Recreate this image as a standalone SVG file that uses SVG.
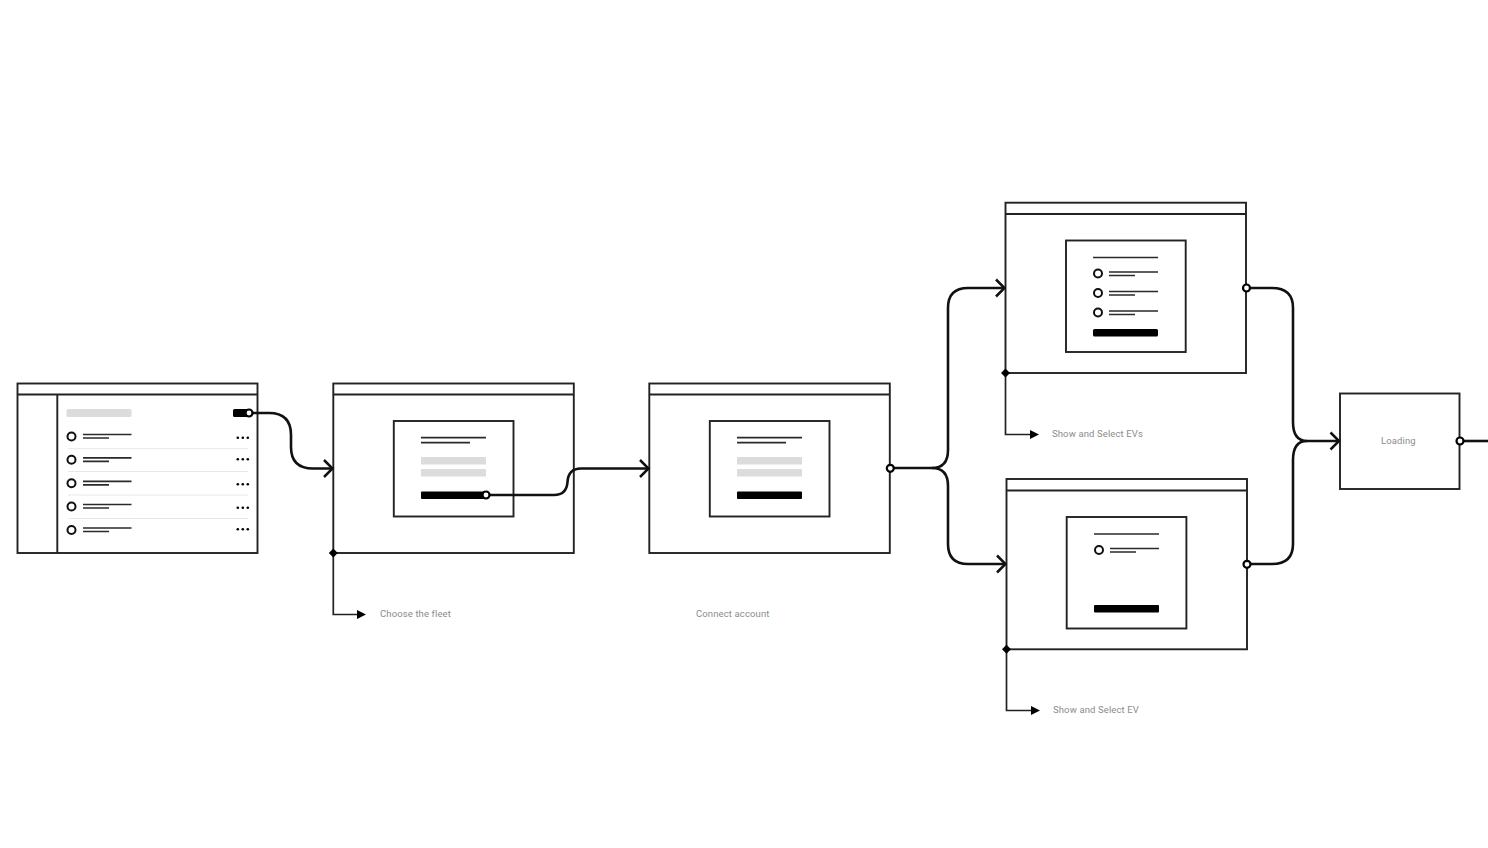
<svg xmlns="http://www.w3.org/2000/svg" width="1488" height="848" viewBox="0 0 1488 848">
<style>
.f{fill:#fff;stroke:#222;stroke-width:1.9}
.l{fill:none;stroke:#222;stroke-width:1.9}
.s{fill:none;stroke:#2a2a2a;stroke-width:1.7}
.sep{fill:none;stroke:#e8e8e8;stroke-width:1}
.g{fill:#dcdcdc}
.b{fill:#000}
.o{fill:#fff;stroke:#111;stroke-width:2}
.c{fill:none;stroke:#111;stroke-width:2.6}
.t{fill:none;stroke:#222;stroke-width:1.7}
.p{fill:#fff;stroke:#000;stroke-width:2.2}
text{font-family:Roboto,"Liberation Sans",sans-serif;font-size:9.500px;fill:#8c8c8c;letter-spacing:.12px}
</style>
<defs>
<marker id="chev" markerUnits="userSpaceOnUse" markerWidth="12" markerHeight="20" refX="10" refY="10" orient="auto" overflow="visible"><path d="M1.500 1.500L10 10L1.500 18.500" fill="none" stroke="#111" stroke-width="2.500"/></marker>
<marker id="tri" markerUnits="userSpaceOnUse" markerWidth="10" markerHeight="10" refX="1" refY="5" orient="auto"><path d="M0 .5L9 5L0 9.500Z" fill="#000"/></marker>
<g id="row"><circle class="o" cx="71.500" cy="0" r="4"/><path class="s" d="M83-2H131.500M83 1.500H109"/></g>
<g id="dots" class="b"><circle cx="237.800" cy="0" r="1.300"/><circle cx="242.800" cy="0" r="1.300"/><circle cx="247.800" cy="0" r="1.300"/></g>
<g id="radio"><circle class="o" cx="0" cy="0" r="4"/><path class="s" d="M11-1.500H60M11 2H37"/></g>
</defs>

<g id="node-list">
<rect class="f" x="17.500" y="383.500" width="240" height="169.500"/>
<path class="l" d="M17.500 394.500H257.500M57.300 394.500V553"/>
<rect class="g" x="66.500" y="409" width="65" height="8" rx="1.500"/>
<use href="#row" y="436.500"/><use href="#row" y="459.800"/><use href="#row" y="483.300"/><use href="#row" y="506.500"/><use href="#row" y="530"/>
<use href="#dots" y="437.700"/><use href="#dots" y="459.300"/><use href="#dots" y="484.300"/><use href="#dots" y="507.700"/><use href="#dots" y="529.300"/>
<path class="sep" d="M68 448.700H248M68 471.500H248M68 495H248M68 518.500H248"/>
<rect class="b" x="233" y="409" width="17" height="8" rx="1.500"/>
</g>

<g id="node-fleet">
<rect class="f" x="333.300" y="383.500" width="240.500" height="169.500"/>
<path class="l" d="M333.300 394.500H573.800"/>
<rect class="f" x="393.800" y="421" width="119.700" height="95.500"/>
<path class="s" d="M421 437.700H486M421 442.700H470"/>
<rect class="g" x="421" y="457" width="65" height="7.500" rx=".5"/><rect class="g" x="421" y="469" width="65" height="7.500" rx=".5"/>
<rect class="b" x="421" y="491.500" width="65" height="7.500" rx="1"/>
<text x="380" y="617">Choose the fleet</text>
</g>

<g id="node-account">
<rect class="f" x="649.300" y="383.500" width="240.500" height="169.500"/>
<path class="l" d="M649.300 394.500H889.800"/>
<rect class="f" x="709.800" y="421" width="119.700" height="95.500"/>
<path class="s" d="M737 437.700H802M737 442.700H786"/>
<rect class="g" x="737" y="457" width="65" height="7.500" rx=".5"/><rect class="g" x="737" y="469" width="65" height="7.500" rx=".5"/>
<rect class="b" x="737" y="491.500" width="65" height="7.500" rx="1"/>
<text x="696" y="617">Connect account</text>
</g>

<g id="node-evs">
<rect class="f" x="1005.500" y="202.700" width="240.500" height="170.300"/>
<path class="l" d="M1005.500 214H1246"/>
<rect class="f" x="1066" y="240.500" width="119.700" height="111.500"/>
<path class="s" d="M1093 257.500H1158"/>
<use href="#radio" x="1098" y="273.500"/><use href="#radio" x="1098" y="293"/><use href="#radio" x="1098" y="312.500"/>
<rect class="b" x="1093" y="329" width="65" height="7.500" rx="1.500"/>
<text x="1052" y="437">Show and Select EVs</text>
</g>

<g id="node-ev">
<rect class="f" x="1006.500" y="479" width="240.500" height="170.300"/>
<path class="l" d="M1006.500 490.500H1247"/>
<rect class="f" x="1066.700" y="517" width="119.700" height="111.500"/>
<path class="s" d="M1094 534H1159"/>
<use href="#radio" x="1099" y="550"/>
<rect class="b" x="1094" y="605" width="65" height="7.500" rx="1"/>
<text x="1053" y="713">Show and Select EV</text>
</g>

<g id="node-loading">
<rect class="f" x="1340" y="393.500" width="119.500" height="95.500"/>
<text x="1381" y="444">Loading</text>
</g>

<g id="connectors">
<path class="c" marker-end="url(#chev)" d="M249 413H269Q291 413 291 435V447Q291 468.500 313 468.500H332.500"/>
<path class="c" marker-end="url(#chev)" d="M486 495H554C564 495 567 489 567.500 482C568 474 572 468.500 581 468.500H648.500"/>
<path class="c" marker-end="url(#chev)" d="M890 468H932Q948 468 948 450V308Q948 288 968 288H1004.500"/>
<path class="c" marker-end="url(#chev)" d="M932 468Q948 468 948 486V544Q948 564 968 564H1005.500"/>
<path class="c" d="M1246.500 288H1272Q1293 288 1293 308V422Q1293 441 1307 441"/>
<path class="c" marker-end="url(#chev)" d="M1247 564H1272Q1293 564 1293 544V460Q1293 441 1307 441H1339"/>
<path class="c" d="M1460 441H1488"/>
<path class="t" marker-end="url(#tri)" d="M333.300 553V614.500H358"/>
<path class="t" marker-end="url(#tri)" d="M1005.500 373V434.500H1031"/>
<path class="t" marker-end="url(#tri)" d="M1006.500 649.300V710.500H1032"/>
<g class="b"><path d="M333.300 548.500L337.800 553L333.300 557.500L328.800 553Z"/><path d="M1005.500 368.500L1010 373L1005.500 377.500L1001 373Z"/><path d="M1006.500 644.800L1011 649.300L1006.500 653.800L1002 649.300Z"/></g>
<circle class="p" cx="249" cy="413" r="3.500"/>
<circle class="p" cx="486" cy="495" r="3.500"/>
<circle class="p" cx="890.300" cy="468.300" r="3.500"/>
<circle class="p" cx="1246.500" cy="288" r="3.500"/>
<circle class="p" cx="1247" cy="564.300" r="3.500"/>
<circle class="p" cx="1460" cy="441" r="3.500"/>
</g>
</svg>
